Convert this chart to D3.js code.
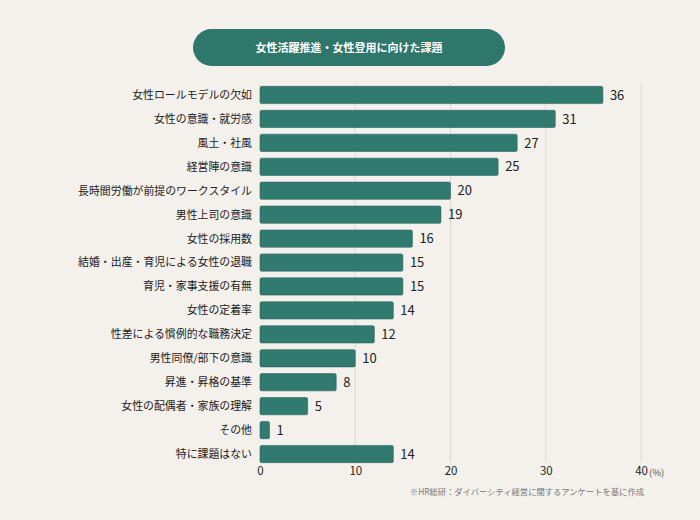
<!DOCTYPE html>
<html>
<head>
<meta charset="utf-8">
<script src="https://cdn.jsdelivr.net/npm/d3@7"></script>
<style>
  body { margin: 0; background: #f4f1ed; }
  svg { display: block; font-family: "Noto Sans CJK JP", "Noto Sans", sans-serif; }
</style>
</head>
<body>
<div id="chart"></div>
<script>
const categories = [
  "女性ロールモデルの欠如", "女性の意識・就労感", "風土・社風", "経営陣の意識",
  "長時間労働が前提のワークスタイル", "男性上司の意識", "女性の採用数",
  "結婚・出産・育児による女性の退職", "育児・家事支援の有無", "女性の定着率",
  "性差による慣例的な職務決定", "男性同僚/部下の意識", "昇進・昇格の基準",
  "女性の配偶者・家族の理解", "その他", "特に課題はない"
];
const values = [36, 31, 27, 25, 20, 19, 16, 15, 15, 14, 12, 10, 8, 5, 1, 14];
const xTicks = [0, 10, 20, 30, 40];
const title = "女性活躍推進・女性登用に向けた課題";
const note = "※HR総研：ダイバーシティ経営に関するアンケートを基に作成";

const width = 700, height = 520;
const svg = d3.select("#chart").append("svg").attr("width", width).attr("height", height);
svg.append("rect").attr("width", width).attr("height", height).attr("fill", "#f4f1ed");

const teal = "#317a6f";

// title pill
svg.append("rect")
  .attr("x", 193).attr("y", 29).attr("width", 312).attr("height", 37)
  .attr("rx", 18.5).attr("fill", "#2f766b");
svg.append("text")
  .attr("x", 349).attr("y", 48).attr("dy", "0.35em")
  .attr("text-anchor", "middle").attr("fill", "#fff")
  .attr("font-size", 11).attr("font-weight", 700)
  .text(title);

const xScale = d3.scaleLinear().domain([0, 40]).range([260, 641]);
const yScale = d3.scaleBand().domain(categories).range([83, 466]).paddingInner(0.28).paddingOuter(0.14);

// gridlines
svg.append("g").selectAll("line").data(xTicks.slice(1)).join("line")
  .attr("x1", d => xScale(d)).attr("x2", d => xScale(d))
  .attr("y1", 84).attr("y2", 463)
  .attr("stroke", "#dcd8d3").attr("stroke-width", 1);

// bars
svg.append("g").selectAll("rect").data(values).join("rect")
  .attr("x", xScale(0))
  .attr("y", (d, i) => yScale(categories[i]))
  .attr("width", d => xScale(d) - xScale(0))
  .attr("height", yScale.bandwidth())
  .attr("rx", 1.5)
  .attr("fill", teal)
  .attr("stroke", "#2a665d").attr("stroke-width", 0.6);

// value labels
svg.append("g").selectAll("text").data(values).join("text")
  .attr("x", d => xScale(d) + 7)
  .attr("y", (d, i) => yScale(categories[i]) + yScale.bandwidth() / 2)
  .attr("dy", "0.36em")
  .attr("font-size", 13).attr("fill", "#222")
  .text(d => d);

// category labels
svg.append("g").selectAll("text").data(categories).join("text")
  .attr("x", 252)
  .attr("y", d => yScale(d) + yScale.bandwidth() / 2)
  .attr("dy", "0.36em")
  .attr("text-anchor", "end")
  .attr("font-size", 10.9).attr("fill", "#222")
  .text(d => d);

// x axis labels
const xAxis = svg.append("g").attr("transform", "translate(0,467)")
  .call(d3.axisBottom(xScale).tickValues(xTicks).tickSize(0).tickPadding(0));
xAxis.select(".domain").remove();
xAxis.selectAll("text")
  .attr("font-size", 11.5).attr("fill", "#222")
  .attr("font-family", "\"Noto Sans CJK JP\", \"Noto Sans\", sans-serif");
svg.append("text")
  .attr("x", xScale(40) + 8).attr("y", 476)
  .attr("font-size", 9.5).attr("fill", "#555")
  .text("(%)");

svg.append("text")
  .attr("x", 644).attr("y", 492).attr("dy", "0.35em")
  .attr("text-anchor", "end")
  .attr("font-size", 8.3).attr("fill", "#777")
  .text(note);
</script>
</body>
</html>
